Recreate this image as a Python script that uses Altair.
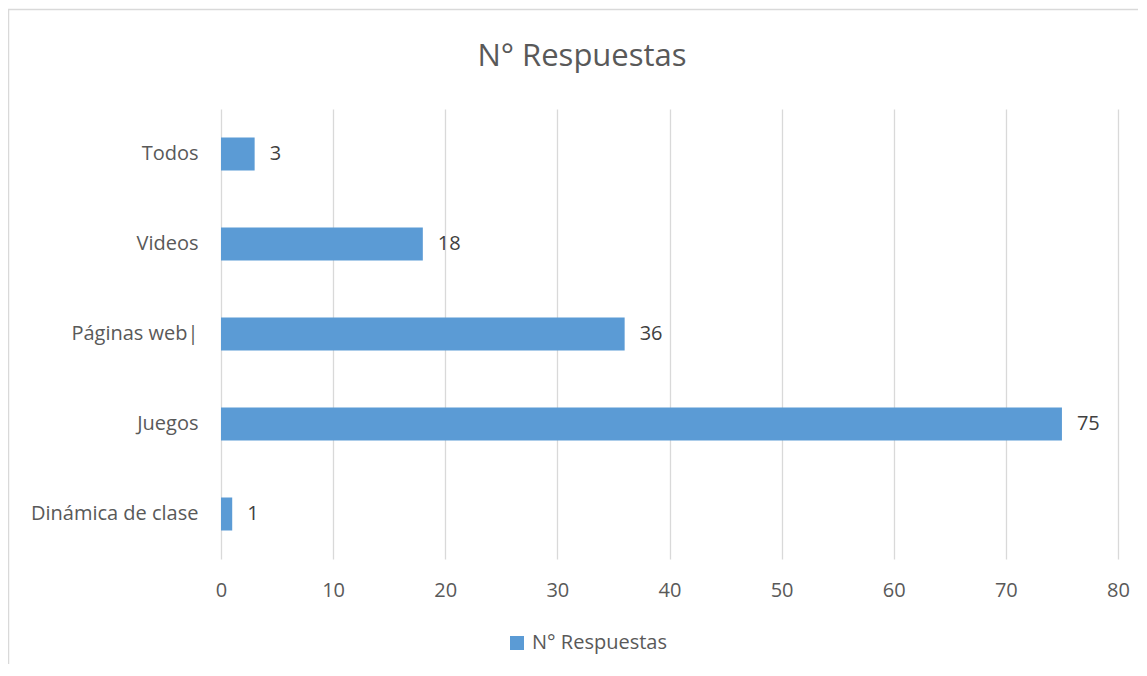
import altair as alt
import pandas as pd

categories = ["Todos", "Videos", "Páginas web|", "Juegos", "Dinámica de clase"]
values = [3, 18, 36, 75, 1]
series_name = "N° Respuestas"
x_ticks = [0, 10, 20, 30, 40, 50, 60, 70, 80]

df = pd.DataFrame({"cat": categories, "val": values, "serie": [series_name] * len(categories)})

FONT = "Open Sans"
FS = 20
W, H = 897, 450
PL, PT, PR, PB = 213, 101, 20, 105

y_enc = alt.Y("cat:N", sort=categories, title=None,
              scale=alt.Scale(paddingInner=0.633, paddingOuter=0.3165),
              axis=alt.Axis(labelFontSize=FS, labelColor="#595959", labelFont=FONT,
                            labelPadding=23, ticks=False, domain=False, grid=False,
                            labelLimit=300))
x_enc = alt.X("val:Q", title=None,
              scale=alt.Scale(domain=[0, 80], nice=False),
              axis=alt.Axis(values=x_ticks, labelFontSize=FS, labelColor="#595959", labelFont=FONT,
                            labelPadding=21, labelFlush=False, ticks=False, domain=False, grid=True,
                            gridColor="#d9d9d9", gridWidth=1.3))

bars = alt.Chart(df).mark_bar(size=33).encode(
    x=x_enc, y=y_enc,
    color=alt.Color("serie:N", scale=alt.Scale(range=["#5b9bd5"]),
                    legend=alt.Legend(orient="none", legendX=286, legendY=524, title=None,
                                      symbolType="square", symbolSize=196, symbolStrokeWidth=0,
                                      labelFontSize=FS, labelColor="#595959", labelFont=FONT,
                                      labelOffset=5, direction="horizontal")),
)

labels = alt.Chart(df).mark_text(align="left", baseline="middle", dx=15, fontSize=FS,
                                 color="#404040", font=FONT).encode(
    x="val:Q", y=alt.Y("cat:N", sort=categories), text="val:Q")

title_df = pd.DataFrame({"t": [series_name]})
title = alt.Chart(title_df).mark_text(fontSize=31, color="#595959", font=FONT,
                                      align="center", baseline="middle").encode(
    x=alt.value(361), y=alt.value(-52), text="t:N")

border = alt.Chart(title_df).mark_rect(fill=None, stroke="#d9d9d9", strokeWidth=1.5).encode(
    x=alt.value(-212.5), x2=alt.value(W + PR + 20), y=alt.value(-99.5), y2=alt.value(H + PB + 20))

chart = alt.layer(border, bars, labels, title).properties(
    width=W, height=H,
    background="white",
    autosize=alt.AutoSizeParams(type="none"),
    padding={"left": PL, "top": PT, "right": PR, "bottom": PB},
).configure_view(strokeWidth=0, stroke="transparent")

chart.save("out.html", embed_options={"renderer": "svg", "actions": False})
